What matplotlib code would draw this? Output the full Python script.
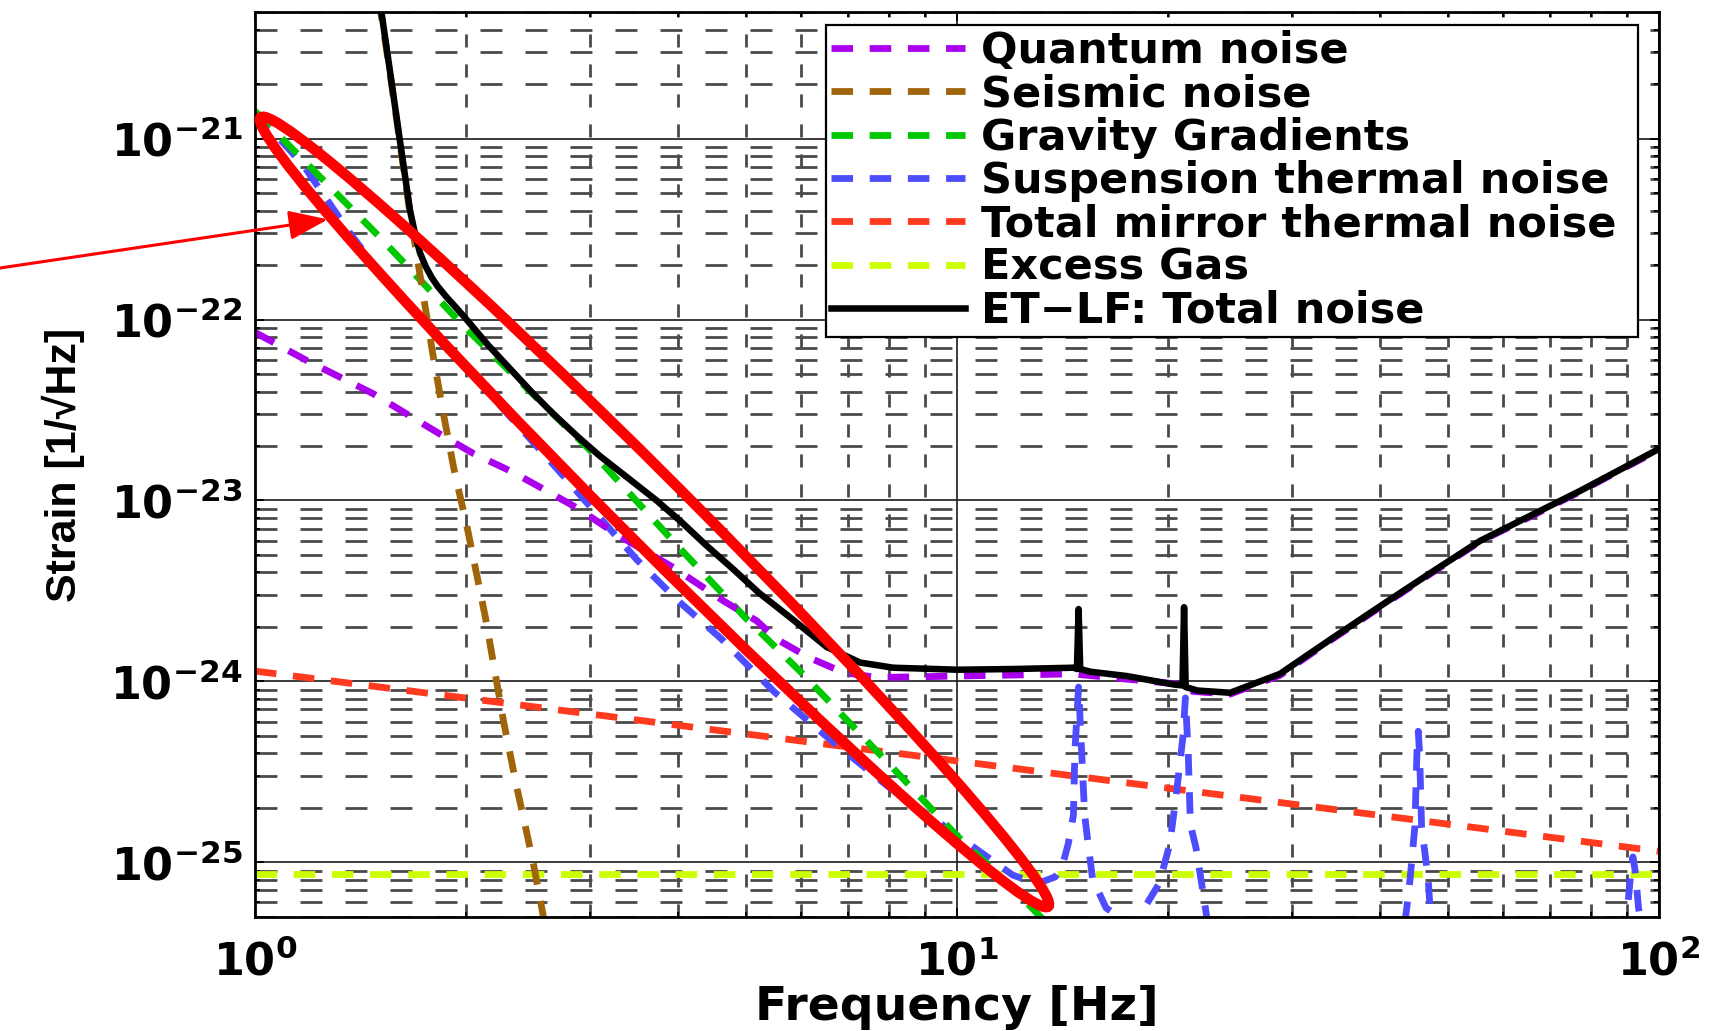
import math
import numpy as np
import matplotlib
matplotlib.use("Agg")
import matplotlib.pyplot as plt
from matplotlib.patches import Ellipse
from matplotlib.transforms import IdentityTransform
from matplotlib.ticker import LogLocator, FixedLocator, FuncFormatter, NullFormatter

plt.rcParams['lines.scale_dashes'] = False
plt.rcParams['mathtext.fontset'] = 'dejavusans'
plt.rcParams['font.family'] = ['DejaVu Sans']

# ---------------- data ----------------
quantum_f = [1.0, 1.185, 1.474, 1.834, 2.046, 2.333, 2.603, 2.904, 3.273, 3.945, 4.645, 5.185,
             5.534, 6.166, 6.887, 7.691, 10.0, 14.62, 20.44, 21.68, 24.49, 28.84, 34.0, 40.05,
             47.0, 55.6, 65.0, 77.2, 88.0, 100.0]
quantum_h = [8.5e-23, 5.94e-23, 3.89e-23, 2.33e-23, 1.82e-23, 1.43e-23, 1.13e-23, 8.9e-24, 6.5e-24,
             4.26e-24, 2.79e-24, 2.16e-24, 1.71e-24, 1.35e-24, 1.12e-24, 1.05e-24, 1.07e-24, 1.10e-24,
             9.7e-25, 8.8e-25, 8.5e-25, 1.08e-24, 1.68e-24, 2.57e-24, 3.88e-24, 5.93e-24, 8.0e-24,
             1.12e-23, 1.47e-23, 1.91e-23]

seismic_f = [1.45, 1.50, 1.55, 1.61, 1.66, 1.73, 1.79, 1.85, 1.92, 2.01, 2.13, 2.26, 2.36, 2.49, 2.62]
seismic_h = [1.6e-20, 6.0e-21, 2.6e-21, 9.3e-22, 4.0e-22, 1.5e-22, 6.6e-23, 3.2e-23, 1.5e-23, 6.8e-24,
             2.24e-24, 6.0e-25, 2.6e-25, 1.0e-25, 3.5e-26]

gravity_f = [1.0, 1.5, 2.0, 3.0, 4.0, 5.0, 6.0, 7.0, 8.0, 10.0, 12.0, 13.5, 14.0]
gravity_h = [1.42e-21, 2.9e-22, 8.9e-23, 1.9e-23, 5.6e-24, 2.24e-24, 1.12e-24, 6.0e-25, 3.5e-25,
             1.4e-25, 7.2e-26, 4.5e-26, 3.9e-26]

susp_f = [1.0, 1.17, 1.37, 1.5, 2.0, 2.7, 3.5, 4.0, 4.6, 5.5, 6.5, 8.0, 10.0, 12.0, 13.0, 13.8, 14.1,
          14.4, 14.65, 14.72, 14.9, 15.05, 15.2, 15.4, 15.6, 16.3, 17.8, 19.4, 20.1, 20.55, 21.0,
          21.15, 21.35, 21.5, 21.9, 22.4, 23.0, 30.0, 43.0, 43.7, 44.2, 44.9, 45.2, 45.4, 45.6, 45.9,
          46.9, 47.2, 48.4, 70.0, 88.1, 90.2, 91.2, 91.8, 92.5, 93.5, 95.5, 100.0]
susp_h = [1.41e-21, 7.2e-22, 2.95e-22, 1.86e-22, 5.4e-23, 1.48e-23, 4.7e-24, 2.8e-24, 1.74e-24,
          8.7e-25, 5.0e-25, 2.6e-25, 1.41e-25, 8.5e-26, 7.6e-26, 8.3e-26, 9.3e-26, 1.26e-25,
          1.82e-25, 4.1e-25, 9.3e-25, 4.1e-25, 1.82e-25, 1.2e-25, 8.1e-26, 5.6e-26, 4.4e-26,
          7.6e-26, 1.26e-25, 2.45e-25, 5.1e-25, 8.1e-25, 4.0e-25, 1.62e-25, 1.2e-25, 6.9e-26,
          3.5e-26, 1.0e-26, 3.5e-26, 5.5e-26, 8.1e-26, 1.58e-25, 4.0e-25, 5.3e-25, 4.0e-25,
          1.58e-25, 8.1e-26, 5.5e-26, 3.5e-26, 1.0e-26, 3.5e-26, 5.6e-26, 8.9e-26, 1.07e-25,
          8.9e-26, 5.6e-26, 3.5e-26, 2.0e-26]

mirror_f = [1.0, 10.0, 100.0]
mirror_h = [1.14e-24, 3.63e-25, 1.15e-25]

gas_f = [1.0, 100.0]
gas_h = [8.65e-26, 8.65e-26]

total_f = [1.45, 1.514, 1.56, 1.607, 1.663, 1.69, 1.718, 1.75, 1.785, 1.82, 1.875, 1.94, 2.002,
           2.15, 2.30, 2.47, 2.658, 2.88, 3.10, 3.40, 3.733, 4.05, 4.40, 4.80, 5.22, 5.80, 6.52,
           7.28, 8.11, 10.0, 12.0, 14.66, 14.82, 14.9, 14.98, 15.5, 17.46, 20.4, 20.95, 21.06,
           21.17, 22.0, 24.5, 28.84, 34.0, 40.1, 47.0, 55.6, 65.0, 77.2, 88.0, 100.0]
total_h = [1.6e-20, 5.0e-21, 2.24e-21, 1.0e-21, 4.0e-22, 2.99e-22, 2.34e-22, 1.97e-22, 1.71e-22,
           1.53e-22, 1.33e-22, 1.15e-22, 1.0e-22, 7.2e-23, 5.43e-23, 4.03e-23, 3.02e-23, 2.26e-23,
           1.76e-23, 1.33e-23, 1.0e-23, 7.6e-24, 5.62e-24, 4.17e-24, 3.09e-24, 2.24e-24, 1.55e-24,
           1.27e-24, 1.19e-24, 1.16e-24, 1.17e-24, 1.19e-24, 1.17e-24, 2.51e-24, 1.17e-24, 1.13e-24,
           1.07e-24, 9.6e-25, 9.5e-25, 2.57e-24, 9.3e-25, 8.9e-25, 8.65e-25, 1.10e-24, 1.70e-24,
           2.61e-24, 3.92e-24, 5.98e-24, 8.1e-24, 1.13e-23, 1.48e-23, 1.93e-23]

labels = ["Quantum noise", "Seismic noise", "Gravity Gradients", "Suspension thermal noise",
          "Total mirror thermal noise", "Excess Gas", "ET\u2212LF: Total noise"]

x_major = [1, 10, 100]
y_major = [1e-25, 1e-24, 1e-23, 1e-22, 1e-21]

# annotation anchors (data coords)
ellipse_tip_f = [1.019, 13.49]
ellipse_tip_h = [1.31e-21, 5.7e-26]
arrow_tip = (1.27, 3.58e-22)

# ---------------- figure ----------------
fig = plt.figure(figsize=(17.36, 10.31), dpi=100)
ax = fig.add_axes([0.14689, 0.11086, 0.80876, 0.87721])
ax.set_xscale('log')
ax.set_yscale('log')
ax.set_xlim(1, 100)
ax.set_ylim(5e-26, 5e-21)

dash = (0, (15.5, 12.0))
lw = 4.9
c_q, c_s, c_g, c_b, c_r, c_y = '#aa00ee', '#a0650a', '#00c800', '#4d4dff', '#ff3a1f', '#ccff00'
ax.plot(gas_f, gas_h, color=c_y, lw=lw, ls=dash, zorder=2.0)
ax.plot(mirror_f, mirror_h, color=c_r, lw=lw, ls=dash, zorder=2.1)
ax.plot(susp_f, susp_h, color=c_b, lw=lw, ls=dash, zorder=2.2)
ax.plot(gravity_f, gravity_h, color=c_g, lw=lw, ls=dash, zorder=2.3)
ax.plot(seismic_f, seismic_h, color=c_s, lw=lw, ls=dash, zorder=2.4)
ax.plot(quantum_f, quantum_h, color=c_q, lw=lw, ls=dash, zorder=2.5)
ax.plot(total_f, total_h, color='black', lw=4.7, zorder=3, solid_joinstyle='round')

handles = [ax.plot([], [], color=c, lw=lw, ls=dash)[0] for c in (c_q, c_s, c_g, c_b, c_r, c_y)]
handles.append(ax.plot([], [], color='black', lw=4.7)[0])

# grid
ax.set_axisbelow(True)
ax.xaxis.set_major_locator(FixedLocator(x_major))
ax.yaxis.set_major_locator(FixedLocator(y_major))
ax.xaxis.set_minor_locator(LogLocator(base=10, subs=np.arange(2, 10), numticks=20))
ax.yaxis.set_minor_locator(LogLocator(base=10, subs=np.arange(2, 10), numticks=20))
ax.grid(True, which='major', color='#1a1a1a', lw=1.2, ls='-')
ax.xaxis.grid(True, which='minor', color='#4a4a4a', lw=2.0, ls=(0, (9.4, 12.2)))
ax.yaxis.grid(True, which='minor', color='#4a4a4a', lw=2.0, ls=(0, (15.8, 16.6)))

fmt = FuncFormatter(lambda v, p: r'$\mathbf{10^{%d}}$' % int(round(math.log10(v))))
ax.xaxis.set_major_formatter(fmt)
ax.yaxis.set_major_formatter(fmt)
ax.xaxis.set_minor_formatter(NullFormatter())
ax.yaxis.set_minor_formatter(NullFormatter())
ax.tick_params(which='both', direction='in', top=True, right=True, width=1.3, colors='black')
ax.tick_params(which='major', length=6.5, labelsize=32)
ax.tick_params(which='minor', length=3.6)
ax.tick_params(axis='y', which='major', pad=9)
ax.tick_params(axis='x', which='major', pad=17)
for s in ax.spines.values():
    s.set_linewidth(2.0)

ax.set_xlabel('Frequency [Hz]', fontsize=34, fontweight='bold', family=['DejaVu Sans'])
ax.xaxis.set_label_coords(0.5, -0.075)
ax.set_ylabel('Strain [1/\u221aHz]', fontsize=31, fontweight='bold',
              family=['Liberation Sans', 'DejaVu Sans'])
ax.yaxis.set_label_coords(-0.121, 0.5)

leg = ax.legend(handles, labels,
                loc='upper left', bbox_to_anchor=(826 / 1736, 1 - 25 / 1031 - 0.3, 812 / 1736, 0.3),
                bbox_transform=fig.transFigure, mode='expand', borderaxespad=0,
                prop=dict(family='DejaVu Sans', weight='bold', size=31),
                handlelength=3.1, handletextpad=0.37, labelspacing=0.03, borderpad=0.12,
                frameon=True, fancybox=False, framealpha=1, edgecolor='black')
leg.get_frame().set_linewidth(1.6)
leg.set_zorder(6)

# red annotation ellipse and arrow
p1 = ax.transData.transform((ellipse_tip_f[0], ellipse_tip_h[0]))
p2 = ax.transData.transform((ellipse_tip_f[1], ellipse_tip_h[1]))
c = (p1 + p2) / 2
d = p2 - p1
L = math.hypot(d[0], d[1])
ang = math.degrees(math.atan2(d[1], d[0]))
ell = Ellipse((c[0], c[1]), L, 68, angle=ang, transform=IdentityTransform(),
              facecolor='none', edgecolor='#ff0000', lw=7.6, zorder=8)
fig.add_artist(ell)

ax.annotate('', xy=arrow_tip, xycoords='data', xytext=(0, 1 - 268 / 1031),
            textcoords='figure fraction', annotation_clip=False,
            arrowprops=dict(arrowstyle='-|>,head_length=2.4,head_width=0.9', color='#ff0000',
                            lw=2.2, shrinkA=0, shrinkB=0, mutation_scale=10))

fig.savefig('out.png', dpi=100, facecolor='white')
